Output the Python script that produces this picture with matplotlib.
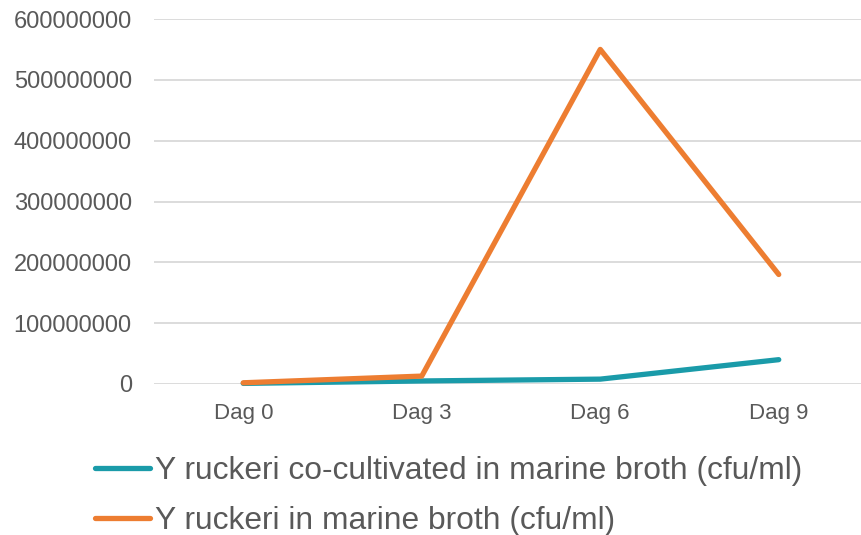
import matplotlib.pyplot as plt
import numpy as np

# ================================
# Data
# ================================
days = ["Dag 0", "Dag 3", "Dag 6", "Dag 9"]
co_cultivated = [1000000, 5000000, 8000000, 40000000]
marine_broth = [2000000, 13000000, 550000000, 180000000]
series_names = ["Y ruckeri co-cultivated in marine broth (cfu/ml)",
                "Y ruckeri in marine broth (cfu/ml)"]
y_ticks = [0, 100000000, 200000000, 300000000, 400000000, 500000000, 600000000]

plt.rcParams["font.family"] = ["Liberation Sans", "DejaVu Sans"]

fig = plt.figure(figsize=(8.61, 5.35), dpi=100)
ax = fig.add_axes([154 / 861, 151 / 535, 707 / 861, 365 / 535])

x = np.arange(len(days))
ax.plot(x, co_cultivated, color="#1A9BA9", linewidth=3.8,
        solid_capstyle="round", solid_joinstyle="round",
        label=series_names[0], clip_on=False, zorder=3)
ax.plot(x, marine_broth, color="#ED7D31", linewidth=3.8,
        solid_capstyle="round", solid_joinstyle="round",
        label=series_names[1], clip_on=False, zorder=4)

ax.set_xlim(-0.5, -0.5 + 707 / 178.5)
ax.set_ylim(0, 600000000)
ax.set_xticks(x)
ax.set_xticklabels(days)
ax.set_yticks(y_ticks)
ax.set_yticklabels([str(t) for t in y_ticks])

ax.grid(axis="y", color="#D9D9D9", linewidth=1.3)
ax.set_axisbelow(True)
for side in ["top", "right", "left", "bottom"]:
    ax.spines[side].set_visible(False)

ax.tick_params(axis="both", length=0, colors="#595959")
ax.tick_params(axis="y", labelsize=17, pad=16)
ax.tick_params(axis="x", labelsize=16, pad=14)

fig.legend(loc="center left", bbox_to_anchor=(95 / 861, (535 - 496) / 535),
           frameon=False, fontsize=22.9, handlelength=1.74,
           handletextpad=0.16, labelspacing=0.62, borderpad=0,
           borderaxespad=0, labelcolor="#595959")

fig.savefig("out.png", dpi=100)
